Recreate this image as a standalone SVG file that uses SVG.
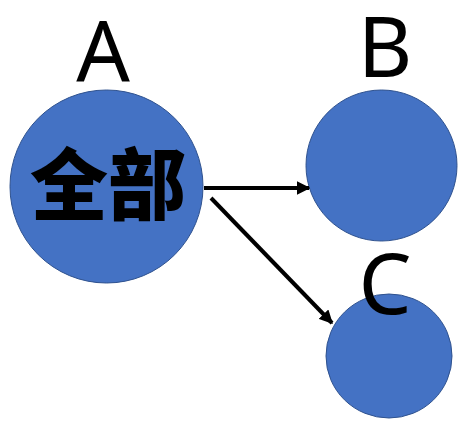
<svg xmlns="http://www.w3.org/2000/svg" width="464" height="421" viewBox="0 0 464 421">
<style>
.node{fill:#4472C4;stroke:#2F528F;stroke-width:1}
.lbl{font-family:"Noto Sans","DejaVu Sans",sans-serif;font-size:84px;fill:#000;text-anchor:middle}
.cjk{font-family:"Noto Sans CJK SC","Noto Sans CJK JP",sans-serif;font-size:78px;font-weight:900;fill:#000;text-anchor:middle}
.edge{stroke:#000;stroke-width:4;fill:none}
</style>
<defs>
<marker id="arr" viewBox="0 0 10 10" refX="9" refY="5" markerWidth="3.4" markerHeight="3.4" orient="auto" markerUnits="strokeWidth">
<path d="M0,0 L10,5 L0,10 z" fill="#000"/>
</marker>
</defs>
<rect width="464" height="421" fill="#fff"/>
<g id="node-A">
<circle class="node" cx="106.5" cy="186.5" r="96.5"/>
<text class="lbl" x="103" y="82">A</text>
<text class="cjk" x="108" y="214">全部</text>
</g>
<g id="node-B">
<circle class="node" cx="381.5" cy="165.5" r="75.5"/>
<text class="lbl" x="385" y="77">B</text>
</g>
<g id="node-C">
<ellipse class="node" cx="389" cy="356" rx="63" ry="62"/>
<text class="lbl" x="385" y="314">C</text>
</g>
<g id="connectors">
<line class="edge" x1="204" y1="188" x2="309" y2="188" marker-end="url(#arr)"/>
<line class="edge" x1="211" y1="198" x2="332" y2="323" marker-end="url(#arr)"/>
</g>
</svg>
